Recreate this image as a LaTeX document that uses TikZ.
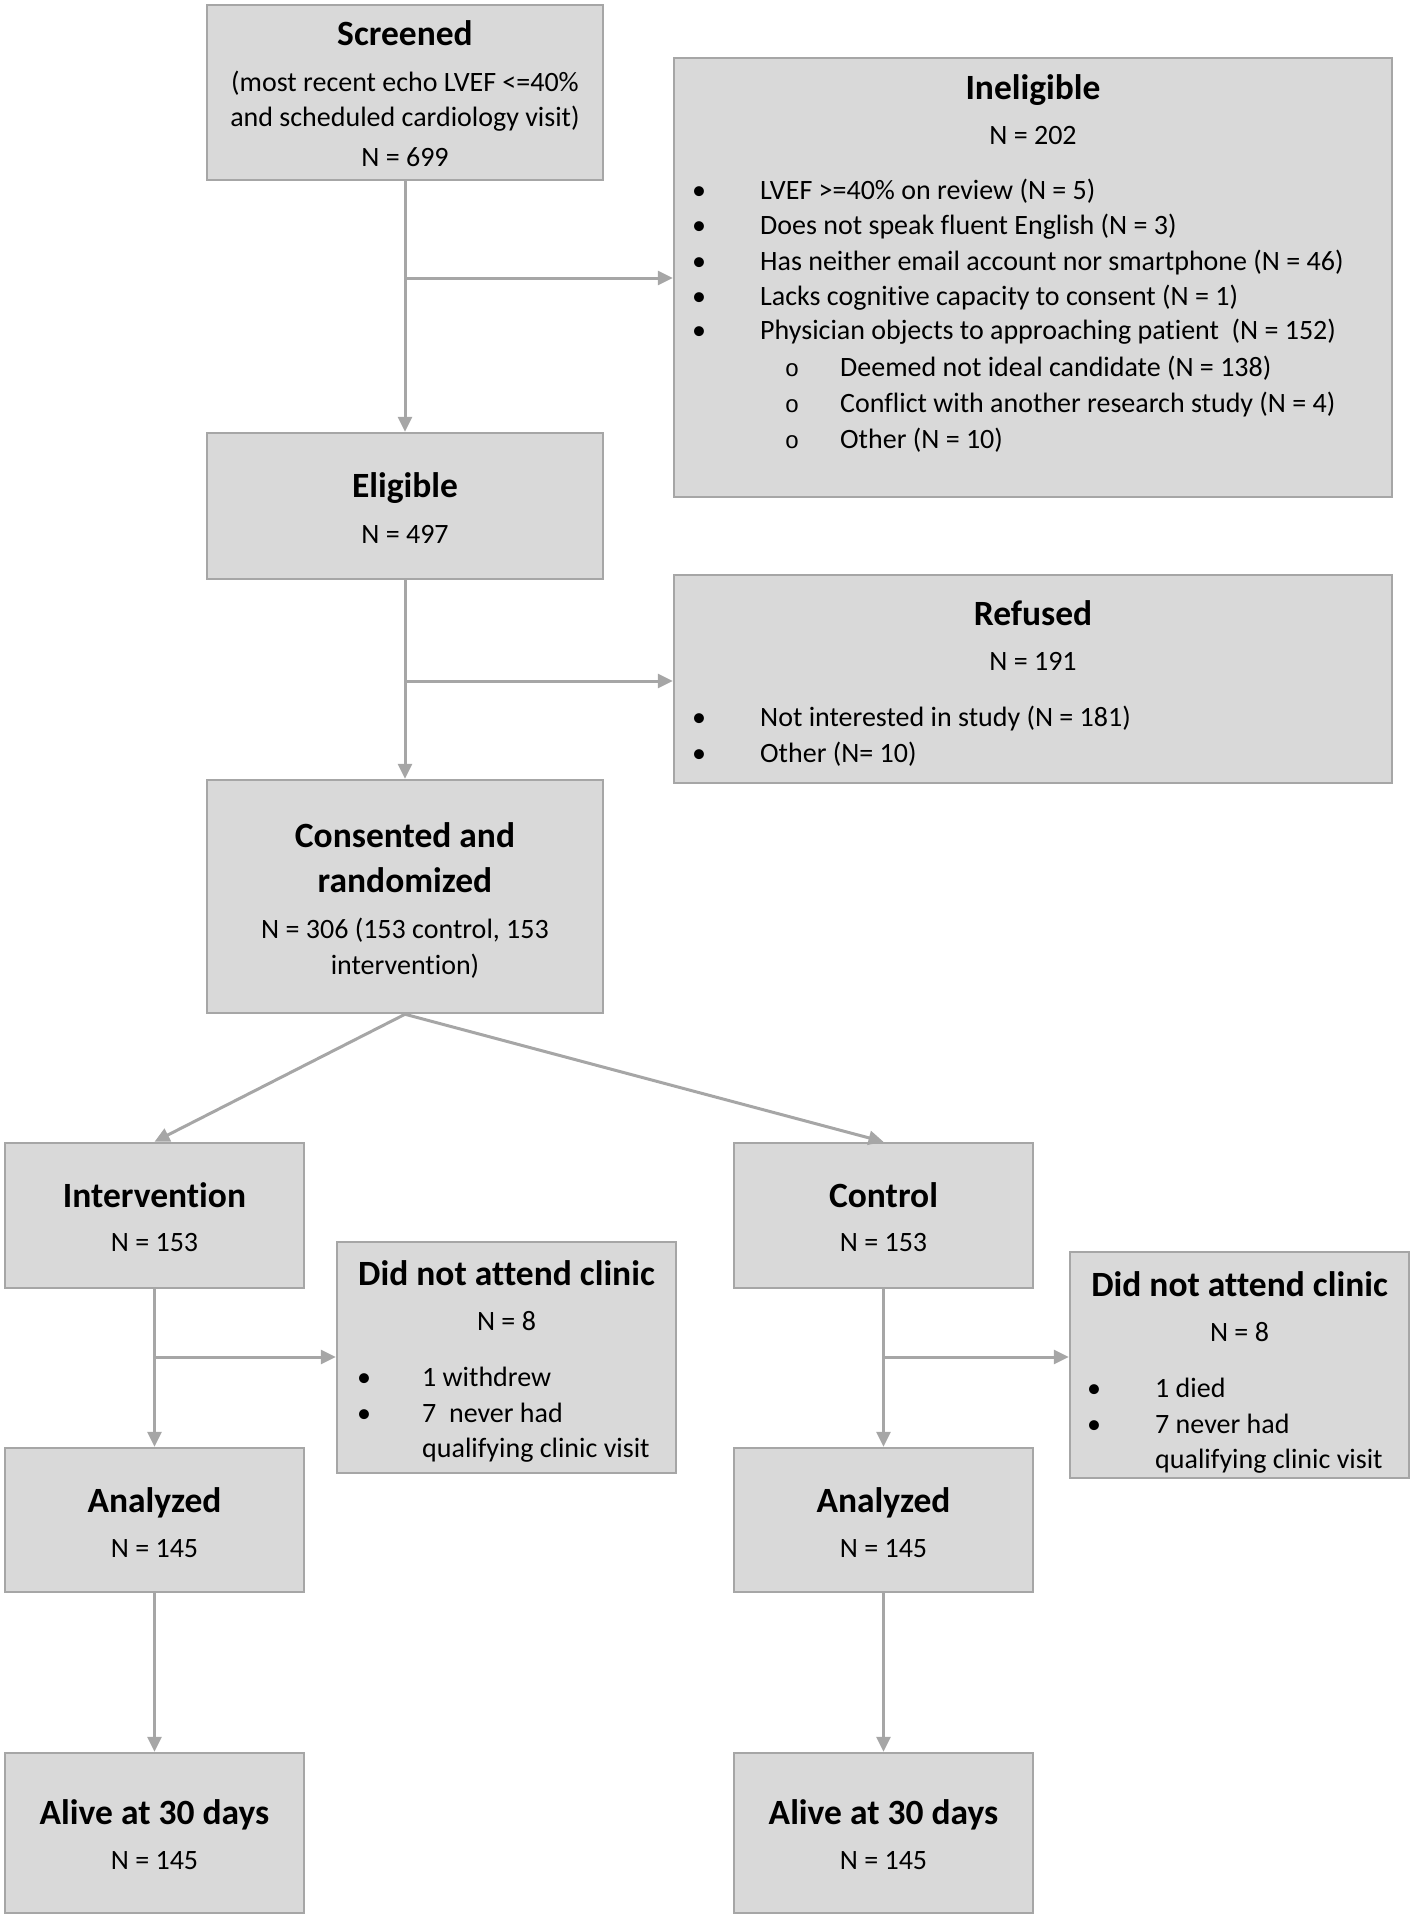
\documentclass[tikz,border=0pt]{standalone}
\usepackage{fontspec}
\setmainfont{Carlito}[RawFeature={-liga}]
\newfontfamily\monofnt{Liberation Mono}
\usetikzlibrary{arrows.meta}
\definecolor{boxfill}{HTML}{D9D9D9}
\definecolor{boxline}{HTML}{A6A6A6}
\tikzset{
  box/.style={draw=boxline, fill=boxfill, line width=2.5pt, inner sep=0pt, rectangle},
  txt/.style={inner sep=0pt, anchor=base, font=\fontsize{28}{35}\selectfont},
  txtl/.style={txt, anchor=base west},
  ttl/.style={inner sep=0pt, anchor=base, font=\fontsize{35.5}{40}\selectfont\bfseries},
  arr/.style={draw=boxline, line width=3pt, -{Triangle[length=15pt,width=14pt]}},
  ln/.style={draw=boxline, line width=3pt}
}
\newcommand{\bul}{\textbullet}
\newcommand{\subbul}{{\monofnt\fontsize{24}{24}\selectfont o}}
\begin{document}
\begin{tikzpicture}[x=1pt,y=-1pt]
\useasboundingbox (0,0) rectangle (1415,1920);
% boxes
\node[box, minimum width=396pt, minimum height=175pt] (scr) at (405,92.5) {};
\node[box, minimum width=718pt, minimum height=439pt] (inel) at (1033,277.5) {};
\node[box, minimum width=396pt, minimum height=146pt] (elig) at (405,506) {};
\node[box, minimum width=718pt, minimum height=208pt] (ref) at (1033,679) {};
\node[box, minimum width=396pt, minimum height=233pt] (cons) at (405,896.5) {};
\node[box, minimum width=299pt, minimum height=145pt] (intv) at (154.5,1215.5) {};
\node[box, minimum width=339pt, minimum height=231pt] (dnal) at (506.5,1357.5) {};
\node[box, minimum width=299pt, minimum height=145pt] (ctrl) at (883.5,1215.5) {};
\node[box, minimum width=339pt, minimum height=226pt] (dnar) at (1239.5,1365) {};
\node[box, minimum width=299pt, minimum height=144pt] (anl) at (154.5,1520) {};
\node[box, minimum width=299pt, minimum height=144pt] (anr) at (883.5,1520) {};
\node[box, minimum width=299pt, minimum height=160pt] (all) at (154.5,1833) {};
\node[box, minimum width=299pt, minimum height=160pt] (alr) at (883.5,1833) {};
% texts: screened
\node[ttl] (t1) at (405,45) {Screened};
\node[txt] (t2) at (405,91) {(most recent echo LVEF <=40\%};
\node[txt] (t3) at (405,126) {and scheduled cardiology visit)};
\node[txt] (t4) at (405,166) {N = 699};
% ineligible
\node[ttl] (i0) at (1033,99) {Ineligible};
\node[txt] (i1) at (1033,144) {N = 202};
\node[txt] (ib1) at (699,199) {\bul};
\node[txtl] (i2) at (760,199) {LVEF >=40\% on review (N = 5)};
\node[txt] (ib2) at (699,234) {\bul};
\node[txtl] (i3) at (760,234) {Does not speak fluent English (N = 3)};
\node[txt] (ib3) at (699,270) {\bul};
\node[txtl] (i4) at (760,270) {Has neither email account nor smartphone (N = 46)};
\node[txt] (ib4) at (699,305) {\bul};
\node[txtl] (i5) at (760,305) {Lacks cognitive capacity to consent (N = 1)};
\node[txt] (ib5) at (699,339) {\bul};
\node[txtl] (i6) at (760,339) {Physician objects to approaching patient \ (N = 152)};
\node[txt] (is1) at (792,376) {\subbul};
\node[txtl] (i7) at (840,376) {Deemed not ideal candidate (N = 138)};
\node[txt] (is2) at (792,412) {\subbul};
\node[txtl] (i8) at (840,412) {Conflict with another research study (N = 4)};
\node[txt] (is3) at (792,448) {\subbul};
\node[txtl] (i9) at (840,448) {Other (N = 10)};
% eligible
\node[ttl] (e0) at (405,497) {Eligible};
\node[txt] (e1) at (405,543) {N = 497};
% refused
\node[ttl] (r0) at (1033,625) {Refused};
\node[txt] (r1) at (1033,670) {N = 191};
\node[txt] (rb1) at (699,726) {\bul};
\node[txtl] (r2) at (760,726) {Not interested in study (N = 181)};
\node[txt] (rb2) at (699,762) {\bul};
\node[txtl] (r3) at (760,762) {Other (N= 10)};
% consented
\node[ttl] (c0) at (405,847) {Consented and};
\node[ttl] (c1) at (405,892) {randomized};
\node[txt] (c2) at (405,938) {N = 306 (153 control, 153};
\node[txt] (c3) at (405,974) {intervention)};
% intervention / control
\node[ttl] (v0) at (154.5,1207) {Intervention};
\node[txt] (v1) at (154.5,1251) {N = 153};
\node[ttl] (k0) at (883.5,1207) {Control};
\node[txt] (k1) at (883.5,1251) {N = 153};
% did not attend left
\node[ttl] (dl0) at (506.5,1285) {Did not attend clinic};
\node[txt] (dl1) at (506.5,1330) {N = 8};
\node[txt] (dlb1) at (364,1386) {\bul};
\node[txtl] (dl2) at (422,1386) {1 withdrew};
\node[txt] (dlb2) at (364,1422) {\bul};
\node[txtl] (dl3) at (422,1422) {7 \ never had};
\node[txtl] (dl4) at (422,1457) {qualifying clinic visit};
% did not attend right
\node[ttl] (dr0) at (1239.5,1296) {Did not attend clinic};
\node[txt] (dr1) at (1239.5,1341) {N = 8};
\node[txt] (drb1) at (1094,1397) {\bul};
\node[txtl] (dr2) at (1155,1397) {1 died};
\node[txt] (drb2) at (1094,1433) {\bul};
\node[txtl] (dr3) at (1155,1433) {7 never had};
\node[txtl] (dr4) at (1155,1468) {qualifying clinic visit};
% analyzed / alive
\node[ttl] (al0) at (154.5,1512) {Analyzed};
\node[txt] (al1) at (154.5,1557) {N = 145};
\node[ttl] (ar0) at (883.5,1512) {Analyzed};
\node[txt] (ar1) at (883.5,1557) {N = 145};
\node[ttl] (vl0) at (154.5,1824) {Alive at 30 days};
\node[txt] (vl1) at (154.5,1869) {N = 145};
\node[ttl] (vr0) at (883.5,1824) {Alive at 30 days};
\node[txt] (vr1) at (883.5,1869) {N = 145};
% connectors
\coordinate (b1) at (405,278);
\coordinate (b2) at (405,681);
\coordinate (b3) at (154.5,1357);
\coordinate (b4) at (883.5,1357);
\draw[arr] (scr.south) -- (elig.north);
\draw[arr] (b1) -- (b1 -| inel.west);
\draw[arr] (elig.south) -- (cons.north);
\draw[arr] (b2) -- (b2 -| ref.west);
\draw[arr] (cons.south) -- (intv.north);
\draw[arr] (cons.south) -- (ctrl.north);
\draw[arr] (intv.south) -- (anl.north);
\draw[arr] (b3) -- (b3 -| dnal.west);
\draw[arr] (ctrl.south) -- (anr.north);
\draw[arr] (b4) -- (b4 -| dnar.west);
\draw[arr] (anl.south) -- (all.north);
\draw[arr] (anr.south) -- (alr.north);
\end{tikzpicture}
\end{document}
